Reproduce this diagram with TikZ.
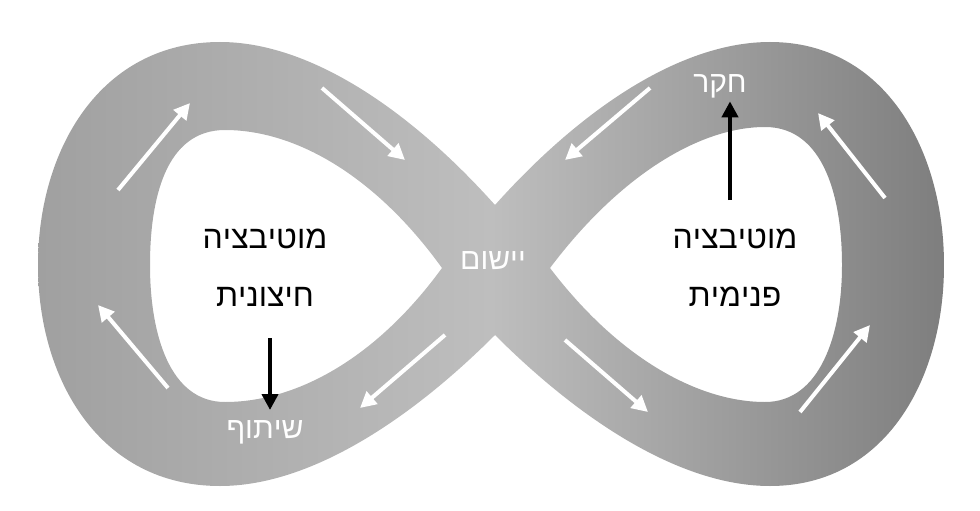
\documentclass[tikz,border=0pt]{standalone}
\usepackage{fontspec}
\setmainfont{Liberation Sans}
\usetikzlibrary{arrows.meta}
\TeXXeTstate=1
\begin{document}
\begin{tikzpicture}[x=1pt,y=-1pt,
  wa/.style={white,line width=4pt,-{Triangle[length=16pt,width=16pt]}},
  ba/.style={black,line width=4pt,-{Triangle[length=16pt,width=16pt]}},
  wt/.style={white,font=\fontsize{30}{34}\selectfont},
  bt/.style={black,align=center,font=\fontsize{32}{58}\selectfont}]
\useasboundingbox (0,0) rectangle (980,511);
\definecolor{lg}{HTML}{A0A0A0}\definecolor{dg}{HTML}{7E7E7E}\definecolor{mg}{HTML}{BEBEBE}
\shade[left color=lg,right color=dg,middle color=mg,even odd rule]
  (495,205) .. controls (580,110) and (680,42) .. (770,42) .. controls (885,42) and (944,150) .. (944,265) .. controls (944,380) and (885,486) .. (770,486) .. controls (680,486) and (580,420) .. (495,335) .. controls (410,420) and (310,486) .. (220,486) .. controls (100,486) and (38,380) .. (38,265) .. controls (38,150) and (100,42) .. (220,42) .. controls (310,42) and (410,110) .. (495,205) -- cycle
  (550,268) .. controls (620,175) and (700,127) .. (765,127) .. controls (825,127) and (842,200) .. (842,265) .. controls (842,335) and (820,402) .. (765,402) .. controls (700,402) and (620,360) .. (550,268) -- cycle
  (442,268) .. controls (375,175) and (295,130) .. (225,130) .. controls (165,130) and (150,200) .. (150,265) .. controls (150,335) and (170,402) .. (225,402) .. controls (295,402) and (375,360) .. (442,268) -- cycle;
\coordinate (a1s) at (118,190); \coordinate (a1e) at (190,103);
\coordinate (a2s) at (322,88); \coordinate (a2e) at (405,160);
\coordinate (a3s) at (445,335); \coordinate (a3e) at (360,408);
\coordinate (a4s) at (168,388); \coordinate (a4e) at (98,305);
\coordinate (a5s) at (650,88); \coordinate (a5e) at (565,160);
\coordinate (a6s) at (885,198); \coordinate (a6e) at (818,113);
\coordinate (a7s) at (565,340); \coordinate (a7e) at (648,412);
\coordinate (a8s) at (800,412); \coordinate (a8e) at (870,325);
\foreach \i in {1,...,8} \draw[wa] (a\i s) -- (a\i e);
\node[wt] (heker) at (720,86) {\beginR חקר\endR};
\node[wt] (yishum) at (493,261) {\beginR יישום\endR};
\node[wt] (shituf) at (265,432) {\beginR שיתוף\endR};
\node[bt] (ext) at (265,268) {\beginR מוטיבציה\endR\\\beginR חיצונית\endR};
\node[bt] (int) at (735,268) {\beginR מוטיבציה\endR\\\beginR פנימית\endR};
\coordinate (b1s) at (730,200); \coordinate (b2s) at (270,338);
\draw[ba] (b1s) -- (heker.south -| b1s);
\draw[ba] (b2s) -- (270,410);
\end{tikzpicture}
\end{document}
